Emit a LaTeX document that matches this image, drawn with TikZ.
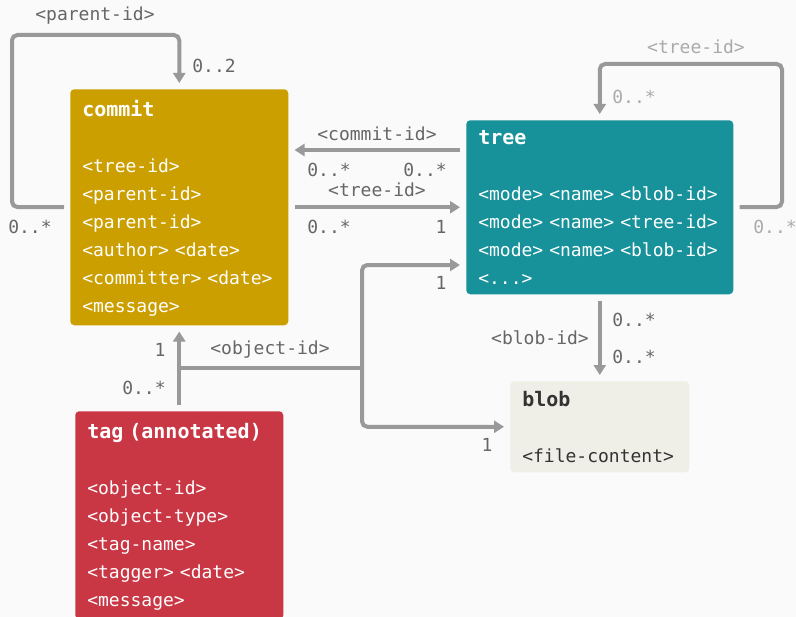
\documentclass[tikz,border=0pt]{standalone}
\usepackage{fontspec}
\usepackage{xcolor}
\usetikzlibrary{arrows.meta}
\newfontfamily\diagfont{DejaVu Sans Mono}
\definecolor{bgcol}{HTML}{FAFAFA}
\definecolor{commitcol}{HTML}{CC9F00}
\definecolor{treecol}{HTML}{17919A}
\definecolor{tagcol}{HTML}{C93644}
\definecolor{blobcol}{HTML}{EFEEE7}
\definecolor{linkcol}{HTML}{999999}
\definecolor{labelcol}{HTML}{666666}
\definecolor{faintcol}{HTML}{AAAAAA}
\newcommand{\rs}{\rule[-4.8pt]{0pt}{21pt}}
\newcommand{\row}[1]{\rs\mbox{#1}}
\newcommand{\ttl}[1]{\rs{\fontsize{15}{21}\selectfont\bfseries #1}}

\begin{document}
\begin{tikzpicture}[x=0.75pt,y=-0.75pt,
		>={Triangle[length=7.5pt,width=9pt]},
		font=\diagfont\fontsize{13.5}{21}\selectfont,
		obj/.style={rectangle,rounded corners=3pt,anchor=north west,align=left,
			inner xsep=9pt,inner ysep=0pt,text=white},
		link/.style={draw=linkcol,line width=3pt,rounded corners=4pt,
			shorten <=4.5pt,shorten >=4.5pt},
		lbl/.style={text=labelcol,inner sep=0pt},
		faint/.style={text=faintcol,inner sep=0pt}]
		\useasboundingbox (0,0) rectangle (796,617);
		\fill[bgcol] (0,0) rectangle (796,617);

		% objects
		\node[obj,fill=commitcol,text width=145.5pt,minimum height=177pt] (commit) at (70,89)
		{\ttl{commit}\\ \rs\\ \row{<tree-id>}\\ \row{<parent-id>}\\ \row{<parent-id>}\\
			\row{<author> <date>}\\ \row{<committer> <date>}\\ \row{<message>}};
		\node[obj,fill=treecol,text width=182.25pt,minimum height=130.5pt] (tree) at (466,120)
		{\ttl{tree}\\ \rs\\ \row{<mode> <name> <blob-id>}\\ \row{<mode> <name> <tree-id>}\\
			\row{<mode> <name> <blob-id>}\\ \row{<...>}};
		\node[obj,fill=blobcol,text=black!80,text width=116.25pt,minimum height=68.25pt] (blob) at (510,381)
		{\ttl{blob}\\ \rs\\ \row{<file-content>}};
		\node[obj,fill=tagcol,text width=138pt,minimum height=156pt] (tag) at (75,411)
		{\ttl{tag~(annotated)}\\ \rs\\ \row{<object-id>}\\ \row{<object-type>}\\ \row{<tag-name>}\\
			\row{<tagger> <date>}\\ \row{<message>}};

		% links
		\draw[link,->] (commit.west) -- (12,207) -- (12,35) -| (commit.north);
		\draw[link,->] (tree.east) -- (782,207) -- (782,64) -| (tree.north);
		\draw[link,->] (tree.west |- 0,150) -- (commit.east |- 0,150);
		\draw[link,->] (commit.east) -- (tree.west);
		\draw[link,->] (tree.south) -- (blob.north);
		\draw[link,->] (tag.north) -- (commit.south);
		\coordinate (split) at (179,368);
		\coordinate (fork) at (362,368);
		\draw[link,shorten <=0pt,shorten >=-1.5pt] (split) -- (fork);
		\draw[link,->,shorten <=0pt] (fork) |- (tree.west |- 0,265);
		\draw[link,->,shorten <=0pt] (fork) |- (blob.west);

		% labels
		\node[lbl] (parentid) at (95,16) {<parent-id>};
		\node[lbl] (parenttwo) at (214,66) {0..2};
		\node[lbl] (parentmany) at (30,227) {0..*};
		\node[lbl] (commitid) at (377,134) {<commit-id>};
		\node[lbl] (ciwest) at (329,170) {0..*};
		\node[lbl] (cieast) at (425,170) {0..*};
		\node[lbl] (treeid) at (377,190) {<tree-id>};
		\node[lbl] (tiwest) at (329,227) {0..*};
		\node[lbl] (tieast) at (441,227) {1};
		\node[lbl] (objtree) at (441,283) {1};
		\node[lbl] (objcommit) at (160,350) {1};
		\node[lbl] (objtag) at (144,388) {0..*};
		\node[lbl] (objectid) at (270,350) {<object-id>};
		\node[lbl] (objblob) at (487,445) {1};
		\node[lbl] (blobid) at (540,338) {<blob-id>};
		\node[lbl] (bitree) at (634,320) {0..*};
		\node[lbl] (biblob) at (634,357) {0..*};
		\node[faint] (subtreeid) at (696,47) {<tree-id>};
		\node[faint] (subin) at (634,97) {0..*};
		\node[faint] (subout) at (775,227) {0..*};
\end{tikzpicture}
\end{document}
